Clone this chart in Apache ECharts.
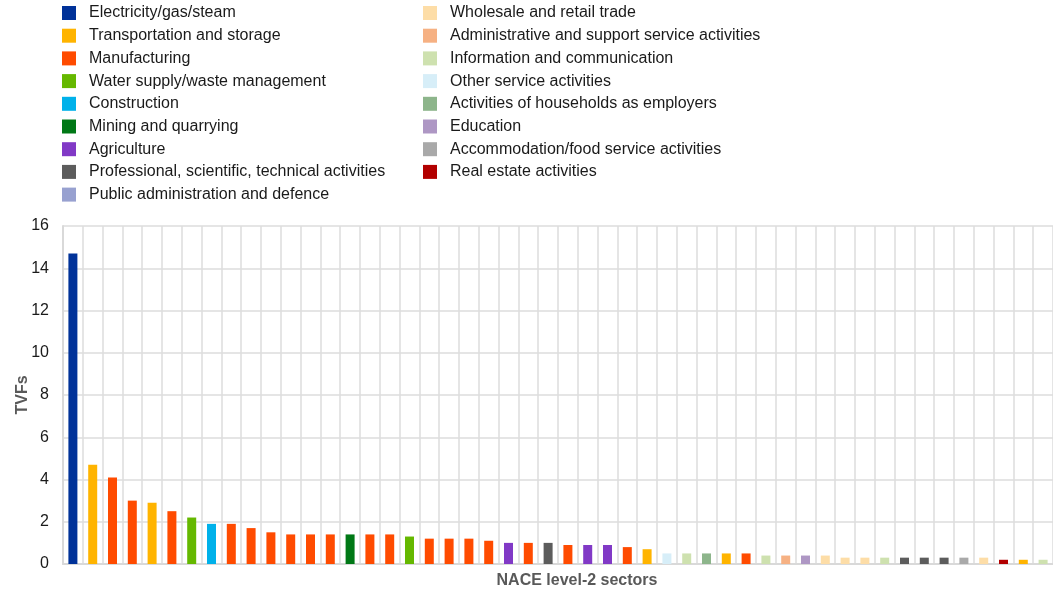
<!DOCTYPE html>
<html>
<head>
<meta charset="utf-8">
<script src="https://cdn.jsdelivr.net/npm/echarts@6/dist/echarts.min.js"></script>
<style>
html,body{margin:0;padding:0;background:#fff;}
#chart{width:1053px;height:591px;}
</style>
</head>
<body>
<div id="chart"></div>
<script>
// Sector names (legend order) and colours
var sectorNames = [
  "Electricity/gas/steam",
  "Transportation and storage",
  "Manufacturing",
  "Water supply/waste management",
  "Construction",
  "Mining and quarrying",
  "Agriculture",
  "Professional, scientific, technical activities",
  "Public administration and defence",
  "Wholesale and retail trade",
  "Administrative and support service activities",
  "Information and communication",
  "Other service activities",
  "Activities of households as employers",
  "Education",
  "Accommodation/food service activities",
  "Real estate activities"
];
var sectorColors = [
  "#003299", "#FFB400", "#FF4B00", "#65B800", "#00B1EA", "#007816", "#8139C6",
  "#5C5C5C", "#98A1D0", "#FDDDA7", "#F6B183", "#CEE1AF", "#D7EEF8", "#8DB58B",
  "#AE97C4", "#A9A9A9", "#B20000"
];

// TVF value of each NACE level-2 sector bar (sorted as in the chart)
var values = [14.7, 4.7, 4.1, 3.0, 2.9, 2.5, 2.2, 1.9, 1.9, 1.7,
              1.5, 1.4, 1.4, 1.4, 1.4, 1.4, 1.4, 1.3, 1.2, 1.2,
              1.2, 1.1, 1.0, 1.0, 1.0, 0.9, 0.9, 0.9, 0.8, 0.7,
              0.5, 0.5, 0.5, 0.5, 0.5, 0.4, 0.4, 0.4, 0.4, 0.3,
              0.3, 0.3, 0.3, 0.3, 0.3, 0.3, 0.3, 0.2, 0.2, 0.2];

// Section (legend group) of each bar, as index into sectorNames
var barSector = [0, 1, 2, 2, 1, 2, 3, 4, 2, 2,
                 2, 2, 2, 2, 5, 2, 2, 3, 2, 2,
                 2, 2, 6, 2, 7, 2, 6, 6, 2, 1,
                 12, 11, 13, 1, 2, 11, 10, 14, 9, 9,
                 9, 11, 7, 7, 7, 15, 9, 16, 1, 11];

var categories = values.map(function (_, i) { return "Sector " + (i + 1); });

var FONT = "'Liberation Sans', Arial, sans-serif";

var series = sectorNames.map(function (name, s) {
  return {
    name: name,
    type: "bar",
    stack: "all",
    barWidth: 9,
    itemStyle: { color: sectorColors[s] },
    emphasis: { disabled: true },
    data: values.map(function (v, i) { return barSector[i] === s ? v : "-"; })
  };
});

var legendCommon = {
  orient: "vertical",
  top: 5,
  padding: 0,
  icon: "rect",
  itemWidth: 14,
  itemHeight: 14,
  itemGap: 6.7,
  selectedMode: false,
  textStyle: { fontFamily: FONT, fontSize: 16, color: "#1a1a1a", lineHeight: 14, padding: [2, 0, 0, 8] }
};

var chart = echarts.init(document.getElementById("chart"), null, { renderer: "canvas" });
chart.setOption({
  animation: false,
  backgroundColor: "#fff",
  legend: [
    Object.assign({}, legendCommon, { left: 62, data: sectorNames.slice(0, 9) }),
    Object.assign({}, legendCommon, { left: 423, data: sectorNames.slice(9) })
  ],
  grid: { left: 63, right: 0, top: 226, bottom: 27, containLabel: false, outerBoundsMode: "none" },
  xAxis: {
    type: "category",
    data: categories,
    boundaryGap: true,
    name: "NACE level-2 sectors",
    nameLocation: "middle",
    nameGap: 9,
    nameMoveOverlap: false,
    nameTextStyle: { fontFamily: FONT, fontSize: 16, fontWeight: "bold", color: "#595959", verticalAlign: "top", padding: [0, 0, 0, 38] },
    axisLine: { lineStyle: { color: "#d9d9d9", width: 2 } },
    axisTick: { show: false, interval: 0 },
    axisLabel: { show: false, interval: 0 },
    splitLine: { show: true, interval: 0, lineStyle: { color: "#dcdcdc", width: 1.5 } }
  },
  yAxis: {
    type: "value",
    min: 0,
    max: 16,
    interval: 2,
    name: "TVFs",
    nameLocation: "middle",
    nameRotate: 90,
    nameGap: 32,
    nameMoveOverlap: false,
    nameTextStyle: { fontFamily: FONT, fontSize: 16, fontWeight: "bold", color: "#595959" },
    axisLine: { show: true, lineStyle: { color: "#d9d9d9", width: 2 } },
    axisTick: { show: false },
    axisLabel: { fontFamily: FONT, fontSize: 16, color: "#1a1a1a", margin: 14 },
    splitLine: { show: true, lineStyle: { color: "#dcdcdc", width: 1.5 } }
  },
  series: series
});
</script>
</body>
</html>
